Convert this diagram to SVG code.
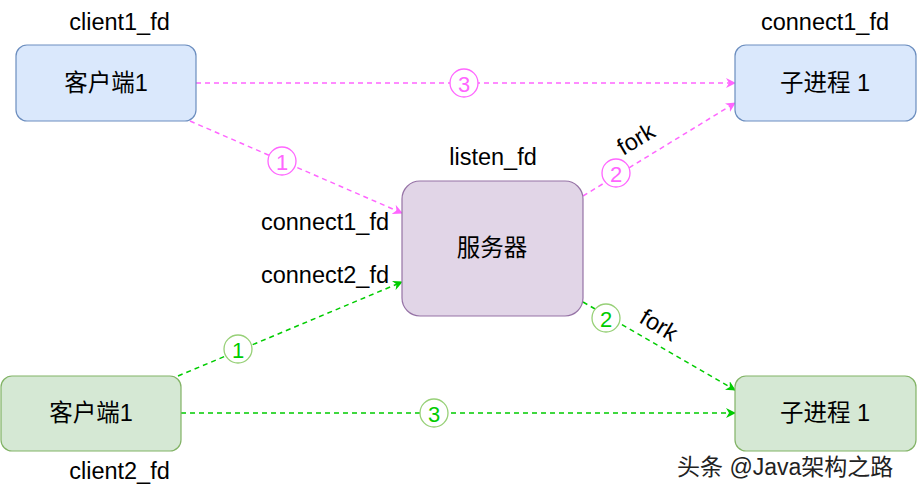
<svg xmlns="http://www.w3.org/2000/svg" width="917" height="497" viewBox="0 0 917 497">
<style>
text{font-family:"Liberation Sans","Noto Sans CJK SC",sans-serif;fill:#000;}
.lbl{font-size:23.5px;}
.nt{font-size:23.5px;text-anchor:middle;dominant-baseline:central;}
.blue{fill:#dae8fc;stroke:#6c8ebf;stroke-width:1.2;}
.green{fill:#d5e8d4;stroke:#82b366;stroke-width:1.2;}
.purple{fill:#e1d5e7;stroke:#9673a6;stroke-width:1.2;}
.pk{stroke:#ff66ff;stroke-width:1.5;stroke-dasharray:5 4;fill:none;}
.gr{stroke:#00cc00;stroke-width:1.5;stroke-dasharray:5 4;fill:none;}
.cpk{fill:#fff;stroke:#ff66ff;stroke-width:1.3;}
.cgr{fill:#fff;stroke:#97d077;stroke-width:1.3;}
.npk{font-size:22px;text-anchor:middle;dominant-baseline:central;fill:#ff66ff;}
.ngr{font-size:22px;text-anchor:middle;dominant-baseline:central;fill:#00cc00;}
</style>
<defs>
<marker id="apk" viewBox="0 0 10 10" refX="9" refY="5" markerWidth="10" markerHeight="10" markerUnits="userSpaceOnUse" orient="auto"><path d="M0,0 L10,5 L0,10 L3,5 z" fill="#ff66ff"/></marker>
<marker id="agr" viewBox="0 0 10 10" refX="9" refY="5" markerWidth="10" markerHeight="10" markerUnits="userSpaceOnUse" orient="auto"><path d="M0,0 L10,5 L0,10 L3,5 z" fill="#00cc00"/></marker>
</defs>
<g id="connectors">
<line class="pk" x1="196" y1="83" x2="735" y2="83" marker-end="url(#apk)"/>
<line class="pk" x1="190" y1="121" x2="402" y2="213" marker-end="url(#apk)"/>
<line class="pk" x1="583" y1="196" x2="735" y2="103" marker-end="url(#apk)"/>
<line class="gr" x1="178" y1="376" x2="402" y2="282" marker-end="url(#agr)"/>
<line class="gr" x1="181" y1="413" x2="735" y2="413" marker-end="url(#agr)"/>
<line class="gr" x1="583" y1="302" x2="735" y2="390" marker-end="url(#agr)"/>
<g id="step-p3"><circle class="cpk" cx="464" cy="83" r="14"/><text class="npk" x="464" y="84">3</text></g>
<g id="step-p1"><circle class="cpk" cx="282" cy="161" r="14"/><text class="npk" x="282" y="162">1</text></g>
<g id="step-p2"><circle class="cpk" cx="616" cy="173" r="14"/><text class="npk" x="616" y="174">2</text></g>
<g id="step-g1"><circle class="cgr" cx="238" cy="349" r="14"/><text class="ngr" x="238" y="350">1</text></g>
<g id="step-g3"><circle class="cgr" cx="434" cy="413" r="14"/><text class="ngr" x="434" y="414">3</text></g>
<g id="step-g2"><circle class="cgr" cx="606" cy="318" r="14"/><text class="ngr" x="606" y="319">2</text></g>
<text class="lbl" text-anchor="middle" dominant-baseline="central" transform="translate(636,139) rotate(-31)">fork</text>
<text class="lbl" text-anchor="middle" dominant-baseline="central" transform="translate(659,325) rotate(31)">fork</text>
</g>
<g id="client1">
<rect class="blue" x="16" y="45" width="180" height="76" rx="11"/>
<text class="nt" x="106" y="83">客户端1</text>
<text class="lbl" x="119.5" y="30" text-anchor="middle">client1_fd</text>
</g>
<g id="child1">
<rect class="blue" x="735" y="45" width="181" height="76" rx="11"/>
<text class="nt" x="825" y="83">子进程 1</text>
<text class="lbl" x="825" y="30" text-anchor="middle">connect1_fd</text>
</g>
<g id="server">
<rect class="purple" x="402" y="181" width="181" height="135" rx="18"/>
<text class="nt" x="492" y="248">服务器</text>
<text class="lbl" x="493" y="165" text-anchor="middle">listen_fd</text>
<text class="lbl" x="389" y="230" text-anchor="end">connect1_fd</text>
<text class="lbl" x="389" y="283" text-anchor="end">connect2_fd</text>
</g>
<g id="client2">
<rect class="green" x="1" y="376" width="180" height="75" rx="11"/>
<text class="nt" x="91" y="413">客户端1</text>
<text class="lbl" x="119.5" y="479" text-anchor="middle">client2_fd</text>
</g>
<g id="child2">
<rect class="green" x="735" y="376" width="181" height="75" rx="11"/>
<text class="nt" x="825" y="413">子进程 1</text>
</g>
<text x="677" y="475" style="font-size:23px;fill:#222;">头条 @Java架构之路</text>
</svg>
